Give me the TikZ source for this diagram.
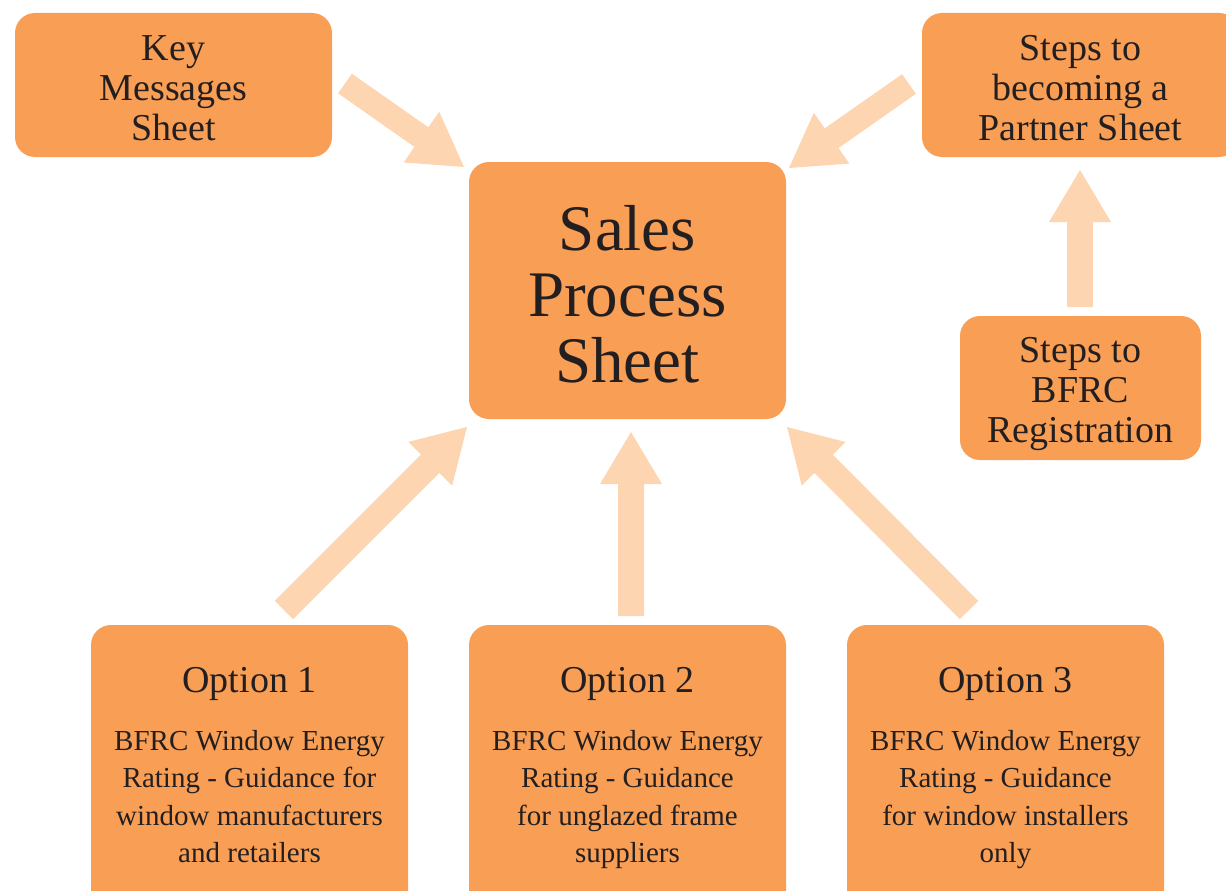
\documentclass[tikz,border=0pt]{standalone}
\usepackage{fontspec}
\setmainfont{Liberation Serif}
\usetikzlibrary{calc}
\definecolor{boxc}{RGB}{248,158,85}
\definecolor{arrc}{RGB}{253,214,177}
\definecolor{txtc}{RGB}{35,31,32}
\newcommand\bkarrow[4]{% start, tip, shaft half width, head half width
  \path (#2) coordinate (bkT) ($(#2)!52pt!(#1)$) coordinate (bkH);
  \fill[arrc] ($(#1)!#3!90:(#2)$) -- ($(bkH)!#3!90:(bkT)$) -- ($(bkH)!#4!90:(bkT)$) -- (bkT)
    -- ($(bkH)!#4!-90:(bkT)$) -- ($(bkH)!#3!-90:(bkT)$) -- ($(#1)!#3!-90:(#2)$) -- cycle;
}
\tikzset{
  box/.style={rectangle, rounded corners=20pt, fill=boxc, draw=none, inner sep=0pt},
  txt/.style={text=txtc, align=center, inner sep=0pt},
  big/.style={txt, font=\fontsize{38}{40}\selectfont},
  huge/.style={txt, font=\fontsize{65}{66}\selectfont},
  body/.style={txt, text depth=7pt, font=\fontsize{29}{37.5}\selectfont}
}
\begin{document}
\begin{tikzpicture}[x=1pt,y=-1pt]
\useasboundingbox (0,0) rectangle (1226,891);
\clip (0,0) rectangle (1226,891);
% boxes
\node[box, minimum width=317pt, minimum height=144pt] (key) at (173.5,85) {};
\node[box, minimum width=317pt, minimum height=144pt] (partner) at (1080.5,85) {};
\node[box, minimum width=317pt, minimum height=257pt] (sales) at (627.5,290.5) {};
\node[box, minimum width=241pt, minimum height=144pt] (bfrc) at (1080.5,388) {};
\node[box, minimum width=317pt, minimum height=300pt] (o1) at (249.5,775) {};
\node[box, minimum width=317pt, minimum height=300pt] (o2) at (627.5,775) {};
\node[box, minimum width=317pt, minimum height=300pt] (o3) at (1005.5,775) {};
% texts
\node[big] (keyt) at ($(key.center)+(0,3)$) {Key\\Messages\\Sheet};
\node[big] (partnert) at ($(partner.center)+(0,3)$) {Steps to\\becoming a\\Partner Sheet};
\node[huge] (salest) at ($(sales.center)+(0,4)$) {Sales\\Process\\Sheet};
\node[big] (bfrct) at ($(bfrc.center)+(0,6)$) {Steps to\\BFRC\\Registration};
\node[big] (o1t) at (249.5,684) {Option 1};
\node[big] (o2t) at (627.5,684) {Option 2};
\node[big] (o3t) at (1005.5,684) {Option 3};
\node[body] (o1b) at (249.5,800) {BFRC Window Energy\\Rating - Guidance for\\window manufacturers\\and retailers};
\node[body] (o2b) at (627.5,800) {BFRC Window Energy\\Rating - Guidance\\for unglazed frame\\suppliers};
\node[body] (o3b) at (1005.5,800) {BFRC Window Energy\\Rating - Guidance\\for window installers\\only};
% arrow ends
\coordinate (a1s) at (345,83.5);  \coordinate (a1t) at (464,167);
\coordinate (a2s) at (909,84);    \coordinate (a2t) at (789,168);
\coordinate (a3s) at (1080,307);  \coordinate (a3t) at (1080,170);
\coordinate (a4s) at (284,610);   \coordinate (a4t) at (467,427);
\coordinate (a5s) at (631,616);   \coordinate (a5t) at (631,432);
\coordinate (a6s) at (969,610);   \coordinate (a6t) at (787,427);
\bkarrow{a1s}{a1t}{12pt}{31pt}
\bkarrow{a2s}{a2t}{12pt}{31pt}
\bkarrow{a3s}{a3t}{13pt}{31pt}
\bkarrow{a4s}{a4t}{13pt}{31pt}
\bkarrow{a5s}{a5t}{13pt}{31pt}
\bkarrow{a6s}{a6t}{13pt}{31pt}
\end{tikzpicture}
\end{document}
